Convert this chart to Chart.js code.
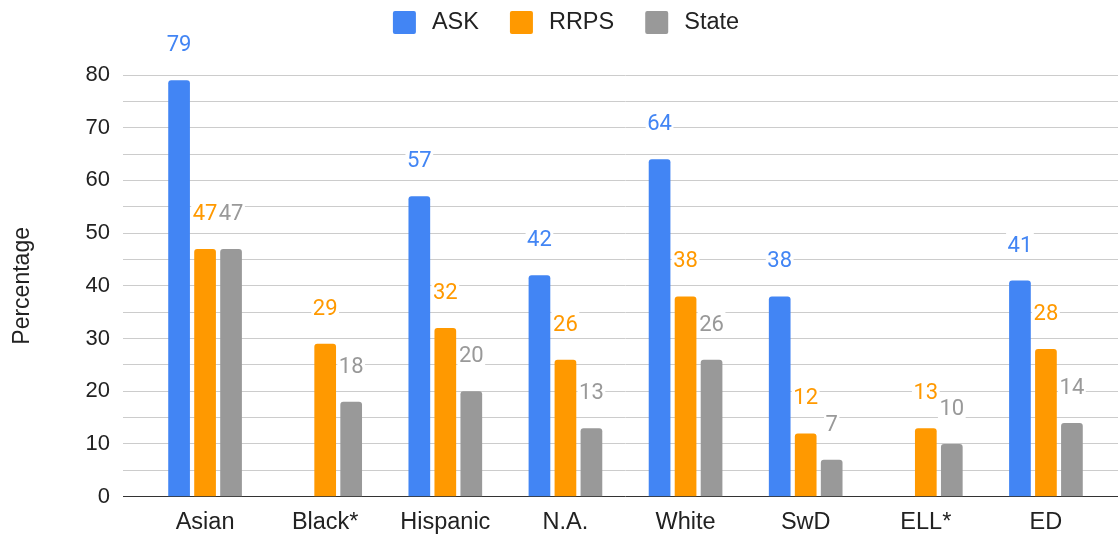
<!DOCTYPE html>
<html>
<head>
<meta charset="utf-8">
<title>Proficiency by subgroup</title>
<script src="https://cdn.jsdelivr.net/npm/chart.js@4.4.1/dist/chart.umd.min.js"></script>
<style>
  html, body { margin: 0; padding: 0; background: #ffffff; }
  #wrap { width: 1118px; height: 537px; }
</style>
</head>
<body>
<div id="wrap"><canvas id="chart" width="1118" height="537"></canvas></div>
<script>
// Subgroups along the x axis
const categories = ['Asian', 'Black*', 'Hispanic', 'N.A.', 'White', 'SwD', 'ELL*', 'ED'];

// Percentages per series (null = no result reported)
const askValues   = [79, null, 57, 42, 64, 38, null, 41];
const rrpsValues  = [47, 29, 32, 26, 38, 12, 13, 28];
const stateValues = [47, 18, 20, 13, 26, 7, 10, 14];

const seriesNames  = ['ASK', 'RRPS', 'State'];
const seriesColors = ['#4285F4', '#FF9900', '#999999'];

// Value axis
const yMin = 0;
const yMax = 80;
const yStep = 5;          // minor grid every 5, labels every 10
const yLabelEvery = 10;
const yTitle = 'Percentage';

const AXIS_FONT = 'Liberation Sans, Arial, sans-serif';
const LABEL_FONT = 'Roboto, Arial, sans-serif';

const gridColor = (c) => (c.tick && c.tick.value === 0) ? '#333333' : '#cccccc';

// Value labels drawn above each bar, on a white backing
const valueLabels = {
  id: 'valueLabels',
  afterDatasetsDraw(chart) {
    const ctx = chart.ctx;
    ctx.save();
    ctx.font = '22px ' + LABEL_FONT;
    ctx.textAlign = 'center';
    ctx.textBaseline = 'alphabetic';
    chart.data.datasets.forEach((ds, di) => {
      const meta = chart.getDatasetMeta(di);
      meta.data.forEach((bar, i) => {
        const v = ds.data[i];
        if (v === null || v === undefined) return;
        const text = String(v);
        const w = ctx.measureText(text).width;
        const base = bar.y - 29;
        ctx.fillStyle = '#ffffff';
        ctx.fillRect(bar.x - w / 2 - 1.5, base - 19, w + 3, 23);
        ctx.fillStyle = ds.backgroundColor;
        ctx.fillText(text, bar.x, base);
      });
    });
    ctx.restore();
  }
};

// Legend row across the top
const topLegend = {
  id: 'topLegend',
  afterDraw(chart) {
    const ctx = chart.ctx;
    ctx.save();
    ctx.font = '23.5px ' + AXIS_FONT;
    ctx.textBaseline = 'middle';
    ctx.textAlign = 'left';
    const box = 23, textGap = 16, itemGap = 31;
    const items = chart.data.datasets.map(ds => ({
      text: ds.label, color: ds.backgroundColor, w: ctx.measureText(ds.label).width
    }));
    const total = items.reduce((s, it) => s + box + textGap + it.w, 0) + itemGap * (items.length - 1);
    let x = chart.width / 2 + 7 - total / 2;
    const boxTop = 11, midY = 23;
    items.forEach(it => {
      ctx.fillStyle = it.color;
      ctx.beginPath();
      ctx.roundRect(x, boxTop, box, box, 2);
      ctx.fill();
      ctx.fillStyle = '#222222';
      ctx.fillText(it.text, x + box + textGap, midY);
      x += box + textGap + it.w + itemGap;
    });
    ctx.restore();
  }
};

const datasets = [askValues, rrpsValues, stateValues].map((vals, k) => ({
  label: seriesNames[k],
  data: vals,
  backgroundColor: seriesColors[k],
  borderWidth: 0,
  borderRadius: 3,
  borderSkipped: 'start',
  categoryPercentage: 0.649,
  barPercentage: 0.835,
  yAxisID: 'y'
}));

new Chart(document.getElementById('chart'), {
  type: 'bar',
  data: { labels: categories, datasets },
  plugins: [valueLabels, topLegend],
  options: {
    responsive: false,
    devicePixelRatio: 1,
    animation: false,
    layout: { padding: { top: 75, bottom: 2, left: 0, right: 0 } },
    plugins: {
      legend: { display: false },
      tooltip: { enabled: false }
    },
    scales: {
      x: {
        afterFit: (s) => { s.height = 38.3; },
        grid: { display: false, drawTicks: false },
        border: { display: false },
        ticks: {
          padding: 12,
          color: '#222222',
          font: { family: AXIS_FONT, size: 23.5 },
          autoSkip: false,
          maxRotation: 0
        }
      },
      y: {
        position: 'left',
        min: yMin,
        max: yMax,
        afterFit: (s) => { s.width = 145; },
        border: { display: false },
        grid: { color: gridColor, lineWidth: 1, drawTicks: true, tickLength: 22 },
        ticks: {
          stepSize: yStep,
          autoSkip: false,
          padding: 13,
          color: '#222222',
          font: { family: AXIS_FONT, size: 22 },
          callback: (v) => (v % yLabelEvery === 0 ? v : '')
        },
        title: {
          display: true,
          text: yTitle,
          color: '#222222',
          font: { family: AXIS_FONT, size: 23 },
          padding: { top: 9, bottom: 0 }
        }
      },
      yRight: {
        position: 'right',
        min: yMin,
        max: yMax,
        border: { display: false },
        grid: { color: gridColor, lineWidth: 1, drawOnChartArea: false, drawTicks: true, tickLength: 12 },
        ticks: { display: false, stepSize: yStep, autoSkip: false }
      }
    }
  }
});
</script>
</body>
</html>
